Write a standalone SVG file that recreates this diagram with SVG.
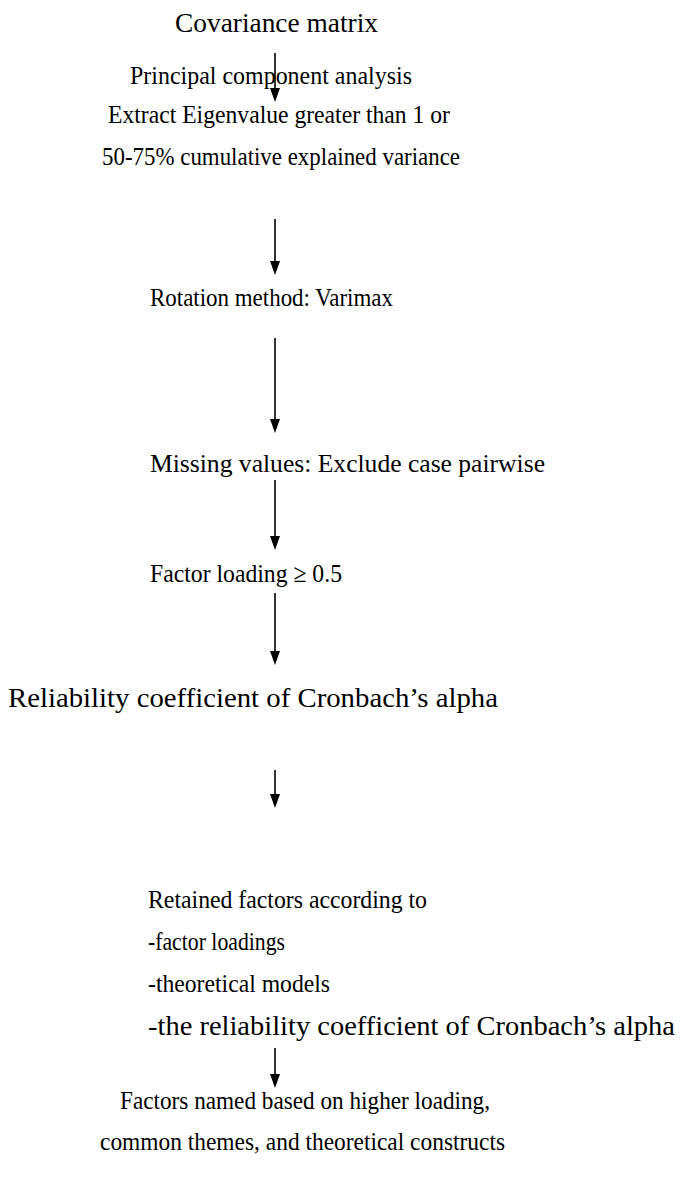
<svg xmlns="http://www.w3.org/2000/svg" width="681" height="1184" viewBox="0 0 681 1184">
<style>
text{font-family:"Liberation Serif","Times New Roman",serif;font-size:26px;fill:#000}
text.w{font-size:28px}
.c line{stroke:#000;stroke-width:1.6}
.c path{fill:#000}
</style>
<rect width="681" height="1184" fill="#fff"/>
<g id="n1"><text x="175" y="32" textLength="203" lengthAdjust="spacingAndGlyphs" style="font-size:27px">Covariance matrix</text></g>
<g id="n2"><text x="130" y="84" textLength="282" lengthAdjust="spacingAndGlyphs">Principal component analysis</text></g>
<g id="n3"><text x="108" y="123" textLength="342" lengthAdjust="spacingAndGlyphs">Extract Eigenvalue greater than 1 or</text><text x="102" y="165" textLength="358" lengthAdjust="spacingAndGlyphs">50-75% cumulative explained variance</text></g>
<g id="n4"><text x="150" y="306" textLength="243" lengthAdjust="spacingAndGlyphs">Rotation method: Varimax</text></g>
<g id="n5"><text x="150" y="472" textLength="395" lengthAdjust="spacingAndGlyphs">Missing values: Exclude case pairwise</text></g>
<g id="n6"><text x="150" y="582" textLength="192" lengthAdjust="spacingAndGlyphs">Factor loading ≥ 0.5</text></g>
<g id="n7"><text class="w" x="8" y="707" textLength="490" lengthAdjust="spacingAndGlyphs">Reliability coefficient of Cronbach’s alpha</text></g>
<g id="n8"><text x="148" y="908" textLength="279" lengthAdjust="spacingAndGlyphs">Retained factors according to</text><text x="148" y="950" textLength="137" lengthAdjust="spacingAndGlyphs">-factor loadings</text><text x="148" y="992" textLength="182" lengthAdjust="spacingAndGlyphs">-theoretical models</text><text class="w" x="148" y="1035" textLength="527" lengthAdjust="spacingAndGlyphs">-the reliability coefficient of Cronbach’s alpha</text></g>
<g id="n9"><text x="120" y="1109" textLength="370" lengthAdjust="spacingAndGlyphs">Factors named based on higher loading,</text><text x="100" y="1150" textLength="405" lengthAdjust="spacingAndGlyphs">common themes, and theoretical constructs</text></g>
<g class="c" id="connectors">
<line x1="275" y1="53" x2="275" y2="90"/><path d="M270,88 L280,88 L275,102 Z"/>
<line x1="275" y1="219" x2="275" y2="263"/><path d="M270,261 L280,261 L275,275 Z"/>
<line x1="275" y1="338" x2="275" y2="421"/><path d="M270,419 L280,419 L275,433 Z"/>
<line x1="275" y1="480" x2="275" y2="538"/><path d="M270,536 L280,536 L275,550 Z"/>
<line x1="275" y1="593" x2="275" y2="653"/><path d="M270,651 L280,651 L275,665 Z"/>
<line x1="275" y1="770" x2="275" y2="796"/><path d="M270,794 L280,794 L275,808 Z"/>
<line x1="275" y1="1048" x2="275" y2="1076"/><path d="M270,1074 L280,1074 L275,1088 Z"/>
</g>
</svg>
